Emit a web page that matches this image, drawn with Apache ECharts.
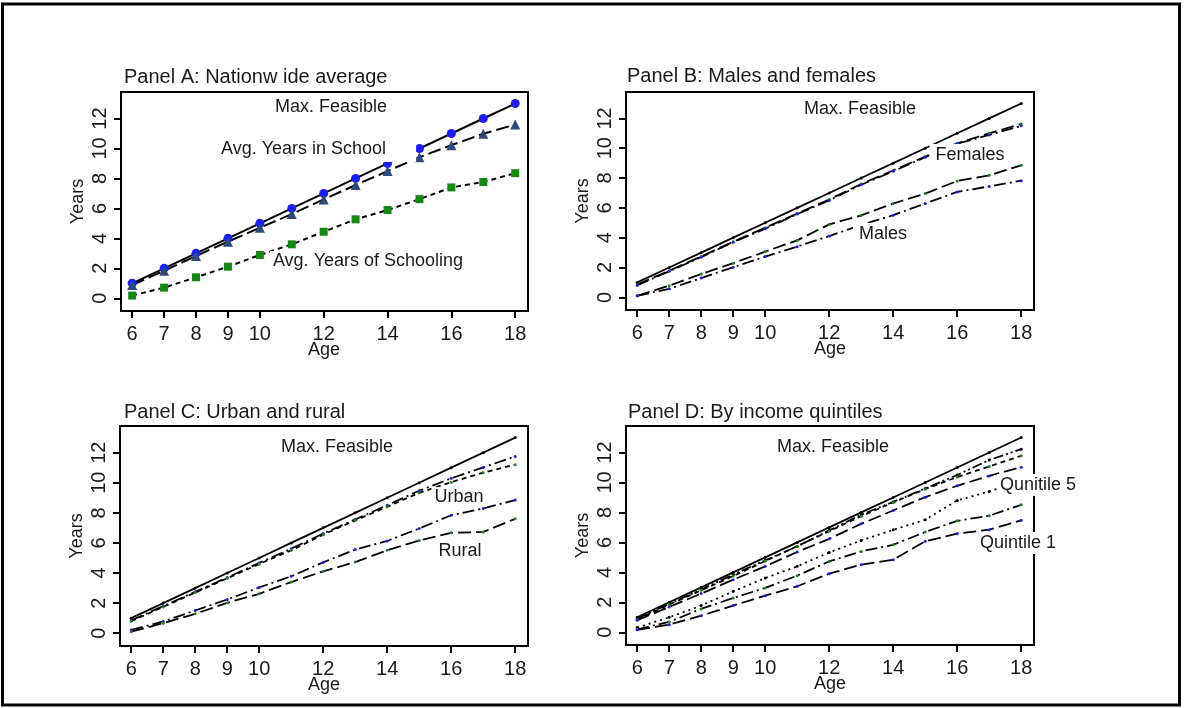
<!DOCTYPE html>
<html>
<head>
<meta charset="utf-8">
<script src="https://cdn.jsdelivr.net/npm/echarts@6/dist/echarts.min.js"></script>
<style>
html, body { margin: 0; padding: 0; background: #fff; }
#chart { width: 1184px; height: 708px; }
</style>
</head>
<body>
<div id="chart"></div>
<script>
// Ages on the horizontal axis and the tick values shown on each axis
const ages = [6, 7, 8, 9, 10, 11, 12, 13, 14, 15, 16, 17, 18];
const xTicks = [6, 7, 8, 9, 10, 12, 14, 16, 18];
const yTicks = [0, 2, 4, 6, 8, 10, 12];

// Maximum feasible years of schooling at each age
const maxFeasible = [1, 2, 3, 4, 5, 6, 7, 8, 9, 10, 11, 12, 13];

// Panel A: nationwide average
const aInSchool  = [0.88, 1.84, 2.82, 3.78, 4.71, 5.62, 6.6, 7.56, 8.49, 9.42, 10.22, 10.98, 11.6];
const aSchooling = [0.18, 0.71, 1.4, 2.11, 2.89, 3.6, 4.44, 5.27, 5.89, 6.62, 7.4, 7.76, 8.35];

// Panel B: males and females
const bFemInSchool  = [0.85, 1.79, 2.74, 3.73, 4.67, 5.62, 6.56, 7.6, 8.51, 9.44, 10.33, 11.0, 11.63];
const bMaleInSchool = [0.8, 1.75, 2.7, 3.7, 4.6, 5.58, 6.5, 7.55, 8.45, 9.4, 10.3, 10.89, 11.5];
const bFemSchooling  = [0.1, 0.78, 1.56, 2.29, 3.07, 3.82, 4.89, 5.49, 6.29, 6.96, 7.8, 8.18, 8.85];
const bMaleSchooling = [0.1, 0.57, 1.29, 2.02, 2.73, 3.4, 4.11, 4.85, 5.51, 6.29, 7.07, 7.44, 7.82];

// Panel C: urban and rural
const cUrbInSchool  = [0.85, 1.8, 2.75, 3.7, 4.67, 5.62, 6.62, 7.56, 8.51, 9.47, 10.29, 11.02, 11.75];
const cUrbSchooling = [0.8, 1.75, 2.7, 3.65, 4.6, 5.51, 6.55, 7.5, 8.4, 9.33, 10.04, 10.67, 11.2];
const cRurInSchool  = [0.22, 0.78, 1.51, 2.24, 3.04, 3.78, 4.71, 5.56, 6.13, 6.96, 7.84, 8.29, 8.85];
const cRurSchooling = [0.1, 0.67, 1.29, 2.02, 2.62, 3.4, 4.11, 4.73, 5.51, 6.16, 6.67, 6.73, 7.6];

// Panel D: by income quintiles
const dQ5 = [0.9, 1.9, 2.85, 3.85, 4.8, 5.73, 6.8, 7.85, 8.7, 9.6, 10.5, 11.5, 12.22];
const dQ4 = [0.85, 1.85, 2.8, 3.75, 4.75, 5.75, 6.75, 7.75, 8.67, 9.56, 10.36, 11.07, 11.78];
const dQ3 = [0.8, 1.69, 2.58, 3.51, 4.4, 5.36, 6.24, 7.24, 8.13, 9.02, 9.78, 10.44, 11.02];
const dQ2 = [0.31, 1.0, 1.78, 2.73, 3.62, 4.4, 5.33, 6.13, 6.84, 7.51, 8.8, 9.4, 10.1];
const dQ1b = [0.2, 0.69, 1.56, 2.29, 2.96, 3.78, 4.73, 5.4, 5.84, 6.69, 7.44, 7.78, 8.51];
const dQ1 = [0.16, 0.51, 1.11, 1.78, 2.44, 3.07, 3.91, 4.51, 4.84, 6.07, 6.58, 6.85, 7.47];

const FONT = '"Liberation Sans", Arial, Helvetica, sans-serif';
const INK = '#1a1a1a';
const BLUE = '#1c1cff';
const GREEN = '#148a14';
const NAVY = '#2c4a7c';

const DASH = {
  solid: 'solid',
  long: [13, 5],
  short: [5, 4],
  dashDot: [12, 4, 2, 4],
  dashDotDot: [10, 3, 2, 3, 2, 3],
  dot: [2, 4]
};

const grids = [
  { left: 121, top: 92, width: 407, height: 219 },
  { left: 626, top: 92, width: 408, height: 218 },
  { left: 120, top: 426, width: 408, height: 220 },
  { left: 626, top: 426, width: 408, height: 219 }
].map(g => Object.assign({ show: true, borderColor: '#000', borderWidth: 2, backgroundColor: '#fff' }, g));

const xAxes = grids.map((g, i) => ({
  type: 'value', gridIndex: i, min: 5.65, max: 18.4,
  axisLine: { onZero: false, lineStyle: { color: '#000', width: 2 } },
  axisTick: { customValues: xTicks, length: 7, lineStyle: { color: '#000', width: 2 } },
  axisLabel: { customValues: xTicks, color: INK, fontSize: 20, fontFamily: FONT, margin: 13 },
  splitLine: { show: false }
}));

const yAxes = grids.map((g, i) => ({
  type: 'value', gridIndex: i, min: -0.85, max: 13.77,
  axisLine: { onZero: false, lineStyle: { color: '#000', width: 2 } },
  axisTick: { customValues: yTicks, length: 7, lineStyle: { color: '#000', width: 2 } },
  axisLabel: { customValues: yTicks, rotate: 90, color: INK, fontSize: 20, fontFamily: FONT, margin: 11 },
  splitLine: { show: false },
  name: 'Years', nameLocation: 'middle', nameRotate: 90, nameGap: 34,
  nameTextStyle: { color: INK, fontSize: 18, fontFamily: FONT }
}));

function pairs(vals) { return ages.map((a, k) => [a, vals[k]]); }

function line(panel, name, vals, dash, opts) {
  const o = opts || {};
  return {
    type: 'line', name: name, xAxisIndex: panel, yAxisIndex: panel,
    data: pairs(vals),
    symbol: o.symbol || 'circle',
    symbolSize: o.size || 3,
    showSymbol: true,
    itemStyle: { color: o.color || BLUE, borderWidth: 0 },
    lineStyle: { color: '#000', width: o.width || 1.8, type: dash },
    z: 3,
    animation: false,
    emphasis: { disabled: true }
  };
}

const series = [
  // Panel A
  line(0, 'Max. Feasible', maxFeasible, DASH.solid, { size: 9, color: BLUE, width: 2 }),
  line(0, 'Avg. Years in School', aInSchool, DASH.long, { symbol: 'triangle', size: 10, color: NAVY, width: 2 }),
  line(0, 'Avg. Years of Schooling', aSchooling, DASH.short, { symbol: 'rect', size: 8, color: GREEN, width: 2 }),
  // Panel B
  line(1, 'Max. Feasible', maxFeasible, DASH.solid, { color: '#000' }),
  line(1, 'Females, in school', bFemInSchool, DASH.long, { color: GREEN }),
  line(1, 'Males, in school', bMaleInSchool, DASH.dashDot, { color: BLUE }),
  line(1, 'Females, schooling', bFemSchooling, DASH.long, { color: GREEN }),
  line(1, 'Males, schooling', bMaleSchooling, DASH.dashDot, { color: BLUE }),
  // Panel C
  line(2, 'Max. Feasible', maxFeasible, DASH.solid, { color: '#000' }),
  line(2, 'Urban, in school', cUrbInSchool, DASH.dashDot, { color: BLUE }),
  line(2, 'Urban, schooling', cUrbSchooling, DASH.short, { color: GREEN }),
  line(2, 'Rural, in school', cRurInSchool, DASH.dashDot, { color: BLUE }),
  line(2, 'Rural, schooling', cRurSchooling, DASH.long, { color: GREEN }),
  // Panel D
  line(3, 'Max. Feasible', maxFeasible, DASH.solid, { color: '#000' }),
  line(3, 'Quintile 5', dQ5, DASH.dashDotDot, { color: '#000' }),
  line(3, 'Quintile 4', dQ4, DASH.short, { color: GREEN }),
  line(3, 'Quintile 3', dQ3, DASH.long, { color: BLUE }),
  line(3, 'Quintile 2', dQ2, DASH.dot, { color: '#000' }),
  line(3, 'Quintile 1b', dQ1b, DASH.dashDot, { color: GREEN }),
  line(3, 'Quintile 1', dQ1, DASH.long, { color: BLUE })
];

// Panel titles, axis titles and in-plot labels (white boxes sit over the lines)
function text(str, x, y, align, pad) {
  return {
    type: 'text', z: 100,
    style: {
      text: str, x: x, y: y, align: align || 'center', verticalAlign: 'middle',
      font: '18px ' + FONT, fill: INK,
      backgroundColor: '#fff', padding: pad || [1, 3, 1, 3]
    }
  };
}
function plain(str, x, y, align, size) {
  return {
    type: 'text', z: 100,
    style: { text: str, x: x, y: y, align: align, verticalAlign: 'middle', font: size + 'px ' + FONT, fill: INK }
  };
}

const graphic = [
  { type: 'rect', z: 100, shape: { x: 2.5, y: 4, width: 1177, height: 701 }, style: { fill: 'none', stroke: '#000', lineWidth: 3 } },
  plain('Panel A: Nationw ide average', 124, 77, 'left', 20),
  plain('Panel B: Males and females', 627, 76, 'left', 20),
  plain('Panel C: Urban and rural', 124, 412, 'left', 20),
  plain('Panel D: By income quintiles', 628, 412, 'left', 20),
  plain('Age', 324, 350, 'center', 18),
  plain('Age', 830, 349, 'center', 18),
  plain('Age', 324, 685, 'center', 18),
  plain('Age', 830, 684, 'center', 18),
  // Panel A
  text('Max. Feasible', 331, 107),
  text('Avg. Years in School', 219, 149, 'left', [2, 30, 6, 2]),
  text('Avg. Years of Schooling', 368, 261),
  // Panel B
  text('Max. Feasible', 860, 109),
  text('Females', 970, 155, 'center', [2, 6, 2, 6]),
  text('Males', 883, 234, 'center', [2, 6, 2, 6]),
  // Panel C
  text('Max. Feasible', 337, 447),
  text('Urban', 459, 497),
  text('Rural', 460, 551, 'center', [2, 6, 2, 6]),
  // Panel D
  text('Max. Feasible', 833, 447),
  text('Qunitile 5', 997, 485, 'left', [2, 3, 2, 3]),
  text('Quintile 1', 977, 543, 'left', [2, 3, 2, 3])
];

const chart = echarts.init(document.getElementById('chart'), null, { renderer: 'canvas' });
chart.setOption({
  animation: false,
  backgroundColor: '#fff',
  grid: grids,
  xAxis: xAxes,
  yAxis: yAxes,
  series: series,
  graphic: graphic
});
</script>
</body>
</html>
